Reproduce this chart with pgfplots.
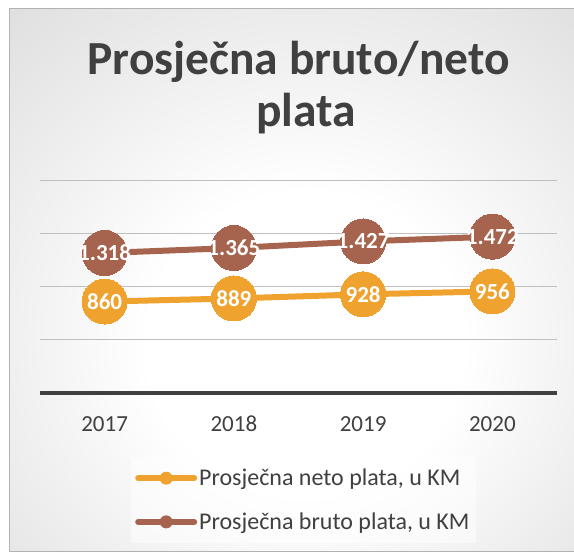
\documentclass[border=0pt]{standalone}
\usepackage{fontspec}
\setmainfont{Carlito}
\usepackage{pgfplots}
\pgfplotsset{compat=1.18}

\definecolor{neto}{RGB}{240,162,46}
\definecolor{bruto}{RGB}{166,100,78}
\definecolor{txt}{RGB}{64,64,64}
\definecolor{gridc}{RGB}{191,191,191}
\definecolor{axc}{RGB}{64,64,64}

% soft radial background, white in the middle
\pgfdeclareradialshading{bgshade}{\pgfpoint{1.5bp}{-7bp}}{%
  color(0bp)=(white); color(14bp)=(white); color(50bp)=(black!18);
  color(70bp)=(black!23); color(90bp)=(black!23)}

\begin{document}
\begin{tikzpicture}
\path[use as bounding box] (0,0) rectangle (574bp,552bp);
\fill[white] (0,0) rectangle (574bp,552bp);
\shade[shading=bgshade] (9bp,0.5bp) rectangle (574bp,543bp);
\draw[black!30, line width=1bp] (576bp,543bp) -- (9.5bp,543bp) -- (9.5bp,0.5bp) -- (576bp,0.5bp);

\node[anchor=base, text=txt, font=\fontsize{47.5bp}{52bp}\selectfont\bfseries] at (298.5bp,477bp) {Prosječna bruto/neto};
\node[anchor=base, text=txt, font=\fontsize{47.5bp}{52bp}\selectfont\bfseries] at (306bp,425.3bp) {plata};

\begin{axis}[
    at={(40bp,159.3bp)}, anchor=south west,
    scale only axis,
    width=517bp, height=212bp,
    xmin=-0.5, xmax=3.5,
    ymin=0, ymax=2000,
    xtick={0,1,2,3},
    xticklabels={2017,2018,2019,2020},
    ytick={500,1000,1500,2000},
    yticklabels={},
    major tick length=0pt,
    axis line style={draw=none},
    ymajorgrids,
    grid style={gridc, line width=1.5bp},
    extra y ticks={0},
    extra y tick labels={},
    extra y tick style={grid=major, grid style={axc, line width=4bp}},
    xticklabel style={anchor=base, yshift=-39bp, text=txt, font=\fontsize{23bp}{27bp}\selectfont},
    /pgf/number format/assume math mode=true,
    clip=false,
    point meta=explicit symbolic,
    nodes near coords,
    nodes near coords style={anchor=center, text=white, font=\fontsize{23bp}{27bp}\selectfont\bfseries},
    legend cell align=left,
    legend style={at={(0.176,-0.303)}, anchor=north west, draw=none,
        fill=white, fill opacity=0.5, text opacity=1,
        font=\fontsize{24bp}{28bp}\selectfont, text=txt,
        inner xsep=4bp, inner ysep=10bp, row sep=21.5bp, column sep=0bp,
        nodes={inner sep=2bp}},
    legend image code/.code={
        \draw[line width=6bp, line cap=round, draw opacity=1] (0bp,0bp) -- (56bp,0bp);
        \path[draw=none, fill opacity=1, fill=.] (28bp,0bp) circle[radius=6.5bp];
    },
]
\addplot[neto, line width=6bp, mark=*, mark size=22.5bp,
    mark options={fill=neto, draw=neto, line width=0pt}]
    coordinates {(0,860) [860] (1,889) [889] (2,928) [928] (3,956) [956]};
\addlegendentry{Prosječna neto plata, u KM}
\addplot[bruto, line width=6bp, mark=*, mark size=22.5bp,
    mark options={fill=bruto, draw=bruto, line width=0pt}]
    coordinates {(0,1318) [1.318] (1,1365) [1.365] (2,1427) [1.427] (3,1472) [1.472]};
\addlegendentry{Prosječna bruto plata, u KM}
\end{axis}
\end{tikzpicture}
\end{document}
